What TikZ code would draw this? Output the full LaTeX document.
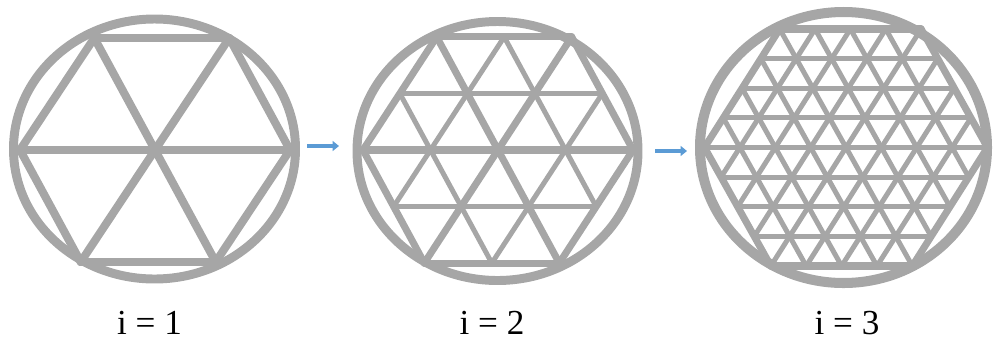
\documentclass[tikz,border=0pt]{standalone}
\usepackage{fontspec}
\setmainfont{Liberation Serif}
\usetikzlibrary{arrows.meta}
\definecolor{meshgray}{RGB}{166,166,166}
\definecolor{arrowblue}{RGB}{91,155,213}
\tikzset{
  ring/.style={draw=meshgray},
  flow/.style={arrowblue,line width=2.8pt,-{Triangle[length=3.6pt,width=5.6pt]}},
  lbl/.style={anchor=base,inner sep=0pt,font=\fontsize{20}{24}\selectfont}
}
% #1 radius, #2 parts per side, #3 edge, #4 axis, #5 inner widths (pt)
\newcommand{\meshlevel}[5]{%
  \foreach \r in {0,60,120}{
    \begin{scope}[rotate=\r]
      \foreach \k in {-#2,...,#2}{
        \pgfmathsetmacro\yy{\k*#1*0.8660/#2}
        \pgfmathsetmacro\hw{#1*(1-abs(\k)/(2*#2))}
        \pgfmathsetmacro\lw{ifthenelse(\k==0,#4,ifthenelse(abs(\k)==#2,#3,#5))}
        \draw[meshgray,line width=\lw pt,line cap=round] (-\hw,\yy) -- (\hw,\yy);
      }
    \end{scope}}}
\begin{document}
\begin{tikzpicture}[x=0.02cm,y=-0.02cm]
\useasboundingbox (0,0) rectangle (994,339);
\draw[ring,line width=5.1pt] (154.5,149) ellipse [x radius=141,y radius=130];
\begin{scope}[shift={(155,150)},yscale=0.958,xslant=0.058]
  \meshlevel{135}{1}{4.6}{4.6}{4.6}
\end{scope}
\draw[ring,line width=5.1pt] (497.5,151) ellipse [x radius=140.5,y radius=129.5];
\begin{scope}[shift={(498,150)},yscale=0.967,xslant=0.053]
  \meshlevel{135}{2}{4}{4}{2.85}
\end{scope}
\draw[ring,line width=5.7pt] (843.5,147.5) ellipse [x radius=143.5,y radius=135.5];
\begin{scope}[shift={(846,147.5)},yscale=0.967,xslant=0.036]
  \meshlevel{141.5}{4}{4}{2.85}{2.85}
\end{scope}
\coordinate (a1) at (307,146);
\coordinate (b1) at (339,146);
\coordinate (a2) at (655,151);
\coordinate (b2) at (687,151);
\draw[flow] (a1) -- (b1);
\draw[flow] (a2) -- (b2);
\node[lbl] (lab1) at (149.5,334) {i = 1};
\node[lbl] (lab2) at (492,334) {i = 2};
\node[lbl] (lab3) at (847,334) {i = 3};
\end{tikzpicture}
\end{document}
